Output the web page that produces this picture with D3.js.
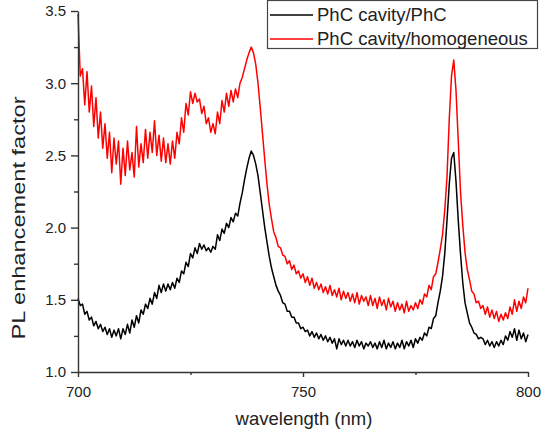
<!DOCTYPE html>
<html lang="en">
<head>
<meta charset="UTF-8" />
<title>PL enhancement factor</title>
<script src="https://d3js.org/d3.v7.min.js"></script>
<style>
    body { margin: 0; background: #fff; }
    text { font-family: Arial, "Liberation Sans", sans-serif; fill: #222; }
    .axis path, .axis line { stroke: #333; stroke-width: 1.4; fill: none; }
    .axis text { font-size: 15px; fill: #222; }
</style>
</head>
<body>
<script>
// spectrum sampled every 0.5 nm from 700 to 800 nm
var wavelength = d3.range(700, 800.25, 0.5);

var cavityPhc = [
    1.51, 1.46, 1.47, 1.40, 1.42, 1.36, 1.38, 1.32, 1.35, 1.30,
    1.33, 1.28, 1.31, 1.26, 1.30, 1.24, 1.29, 1.25, 1.30, 1.23,
    1.30, 1.26, 1.33, 1.27, 1.36, 1.31, 1.39, 1.34, 1.43, 1.40,
    1.47, 1.44, 1.51, 1.47, 1.55, 1.51, 1.60, 1.55, 1.61, 1.56,
    1.61, 1.57, 1.62, 1.58, 1.65, 1.62, 1.70, 1.68, 1.76, 1.73,
    1.82, 1.79, 1.86, 1.82, 1.89, 1.85, 1.88, 1.84, 1.86, 1.83,
    1.87, 1.85, 1.95, 1.91, 1.99, 1.96, 2.03, 2.00, 2.07, 2.04,
    2.10, 2.08, 2.17, 2.24, 2.33, 2.41, 2.48, 2.53, 2.50, 2.44,
    2.36, 2.24, 2.12, 2.00, 1.90, 1.80, 1.72, 1.66, 1.60, 1.56,
    1.53, 1.48, 1.47, 1.42, 1.42, 1.38, 1.38, 1.34, 1.34, 1.30,
    1.31, 1.28, 1.29, 1.25, 1.28, 1.24, 1.27, 1.23, 1.26, 1.22,
    1.25, 1.21, 1.24, 1.20, 1.23, 1.16, 1.23, 1.19, 1.22, 1.18,
    1.22, 1.18, 1.21, 1.17, 1.22, 1.18, 1.21, 1.16, 1.20, 1.18,
    1.21, 1.17, 1.20, 1.16, 1.21, 1.17, 1.22, 1.16, 1.20, 1.17,
    1.21, 1.16, 1.20, 1.17, 1.22, 1.16, 1.21, 1.18, 1.22, 1.17,
    1.23, 1.20, 1.24, 1.22, 1.27, 1.25, 1.31, 1.30, 1.37, 1.39,
    1.48, 1.56, 1.66, 1.82, 2.05, 2.30, 2.48, 2.52, 2.32, 2.05,
    1.82, 1.62, 1.48, 1.41, 1.34, 1.31, 1.27, 1.26, 1.23, 1.24,
    1.23, 1.19, 1.22, 1.18, 1.21, 1.17, 1.21, 1.18, 1.22, 1.19,
    1.25, 1.22, 1.28, 1.24, 1.30, 1.22, 1.29, 1.23, 1.27, 1.21,
    1.26
];

var cavityHomog = [
    3.48, 3.05, 3.10, 2.85, 3.08, 2.80, 2.98, 2.70, 2.90, 2.62,
    2.80, 2.55, 2.72, 2.48, 2.66, 2.38, 2.62, 2.44, 2.60, 2.30,
    2.55, 2.36, 2.60, 2.40, 2.52, 2.35, 2.70, 2.42, 2.58, 2.45,
    2.68, 2.48, 2.66, 2.52, 2.74, 2.50, 2.64, 2.46, 2.62, 2.45,
    2.58, 2.44, 2.60, 2.48, 2.66, 2.58, 2.76, 2.66, 2.86, 2.78,
    2.94, 2.86, 2.93, 2.87, 2.89, 2.79, 2.84, 2.72, 2.76, 2.66,
    2.72, 2.65, 2.80, 2.72, 2.88, 2.80, 2.93, 2.84, 2.95, 2.87,
    2.96, 2.90, 3.00, 3.04, 3.10, 3.16, 3.21, 3.25, 3.21, 3.13,
    3.00, 2.83, 2.65, 2.47, 2.30, 2.16, 2.06, 1.97, 1.93, 1.87,
    1.86, 1.81, 1.80, 1.75, 1.77, 1.71, 1.74, 1.68, 1.70, 1.65,
    1.68, 1.62, 1.66, 1.60, 1.65, 1.58, 1.62, 1.57, 1.61, 1.55,
    1.59, 1.54, 1.60, 1.53, 1.57, 1.52, 1.58, 1.50, 1.56, 1.51,
    1.55, 1.49, 1.54, 1.48, 1.55, 1.47, 1.53, 1.49, 1.52, 1.46,
    1.53, 1.46, 1.51, 1.44, 1.52, 1.46, 1.50, 1.43, 1.51, 1.45,
    1.49, 1.42, 1.48, 1.43, 1.47, 1.41, 1.49, 1.42, 1.46, 1.43,
    1.48, 1.44, 1.50, 1.47, 1.54, 1.52, 1.60, 1.57, 1.66, 1.68,
    1.76, 1.85, 1.95, 2.12, 2.35, 2.75, 3.05, 3.16, 2.95, 2.60,
    2.25, 2.02, 1.83, 1.71, 1.64, 1.56, 1.54, 1.48, 1.49, 1.44,
    1.46, 1.40, 1.45, 1.38, 1.43, 1.37, 1.42, 1.35, 1.40, 1.36,
    1.41, 1.37, 1.45, 1.40, 1.50, 1.42, 1.49, 1.44, 1.52, 1.48,
    1.58
];

var seriesNames = ["PhC cavity/PhC", "PhC cavity/homogeneous"];
var seriesColors = ["#000000", "#ff0000"];
var xTicks = [700, 750, 800];
var yTicks = [1.0, 1.5, 2.0, 2.5, 3.0, 3.5];

var w = 543, h = 434;
var svg = d3.select("body").append("svg")
    .attr("width", w)
    .attr("height", h);

var xScale = d3.scaleLinear().domain([700, 800]).range([78, 528]);
var yScale = d3.scaleLinear().domain([1.0, 3.5]).range([372, 11]);

// minor ticks first
svg.append("g")
    .attr("class", "axis")
    .attr("transform", "translate(0,372)")
    .call(d3.axisBottom(xScale).tickValues([725, 775]).tickSize(3).tickFormat(""))
    .select(".domain").remove();
svg.append("g")
    .attr("class", "axis")
    .attr("transform", "translate(78,0)")
    .call(d3.axisLeft(yScale).tickValues([1.25, 1.75, 2.25, 2.75, 3.25]).tickSize(4).tickFormat(""))
    .select(".domain").remove();

// lines
var line = d3.line()
    .x(function(d, i) { return xScale(wavelength[i]); })
    .y(function(d) { return yScale(d); });

[cavityPhc, cavityHomog].forEach(function(s, k) {
    svg.append("path")
        .datum(s)
        .attr("d", line)
        .attr("fill", "none")
        .attr("stroke", seriesColors[k])
        .attr("stroke-width", 1.5)
        .attr("stroke-linejoin", "round");
});

// major axes
svg.append("g")
    .attr("class", "axis")
    .attr("transform", "translate(0,372)")
    .call(d3.axisBottom(xScale).tickValues(xTicks).tickSize(5).tickPadding(9).tickSizeOuter(0));
svg.append("g")
    .attr("class", "axis")
    .attr("transform", "translate(78,0)")
    .call(d3.axisLeft(yScale).tickValues(yTicks).tickSize(7).tickPadding(5).tickSizeOuter(0)
        .tickFormat(d3.format(".1f")));

// axis titles
svg.append("text")
    .attr("x", 304)
    .attr("y", 425)
    .attr("text-anchor", "middle")
    .style("font-size", "18.5px")
    .text("wavelength (nm)");
svg.append("text")
    .attr("transform", "translate(25,218) rotate(-90)")
    .attr("text-anchor", "middle")
    .attr("textLength", 243)
    .attr("lengthAdjust", "spacingAndGlyphs")
    .style("font-size", "19px")
    .text("PL enhancement factor");

// legend
var lg = svg.append("g");
lg.append("rect")
    .attr("x", 267.5).attr("y", 0.5)
    .attr("width", 270).attr("height", 48)
    .attr("fill", "#fff")
    .attr("stroke", "#444")
    .attr("stroke-width", 1.2);
seriesNames.forEach(function(name, k) {
    var yy = 15 + k * 24;
    lg.append("line")
        .attr("x1", 270).attr("x2", 313)
        .attr("y1", yy).attr("y2", yy)
        .attr("stroke", seriesColors[k])
        .attr("stroke-width", 1.5);
    lg.append("text")
        .attr("x", 317)
        .attr("y", yy + 6)
        .style("font-size", "18.5px")
        .text(name);
});
</script>
</body>
</html>
